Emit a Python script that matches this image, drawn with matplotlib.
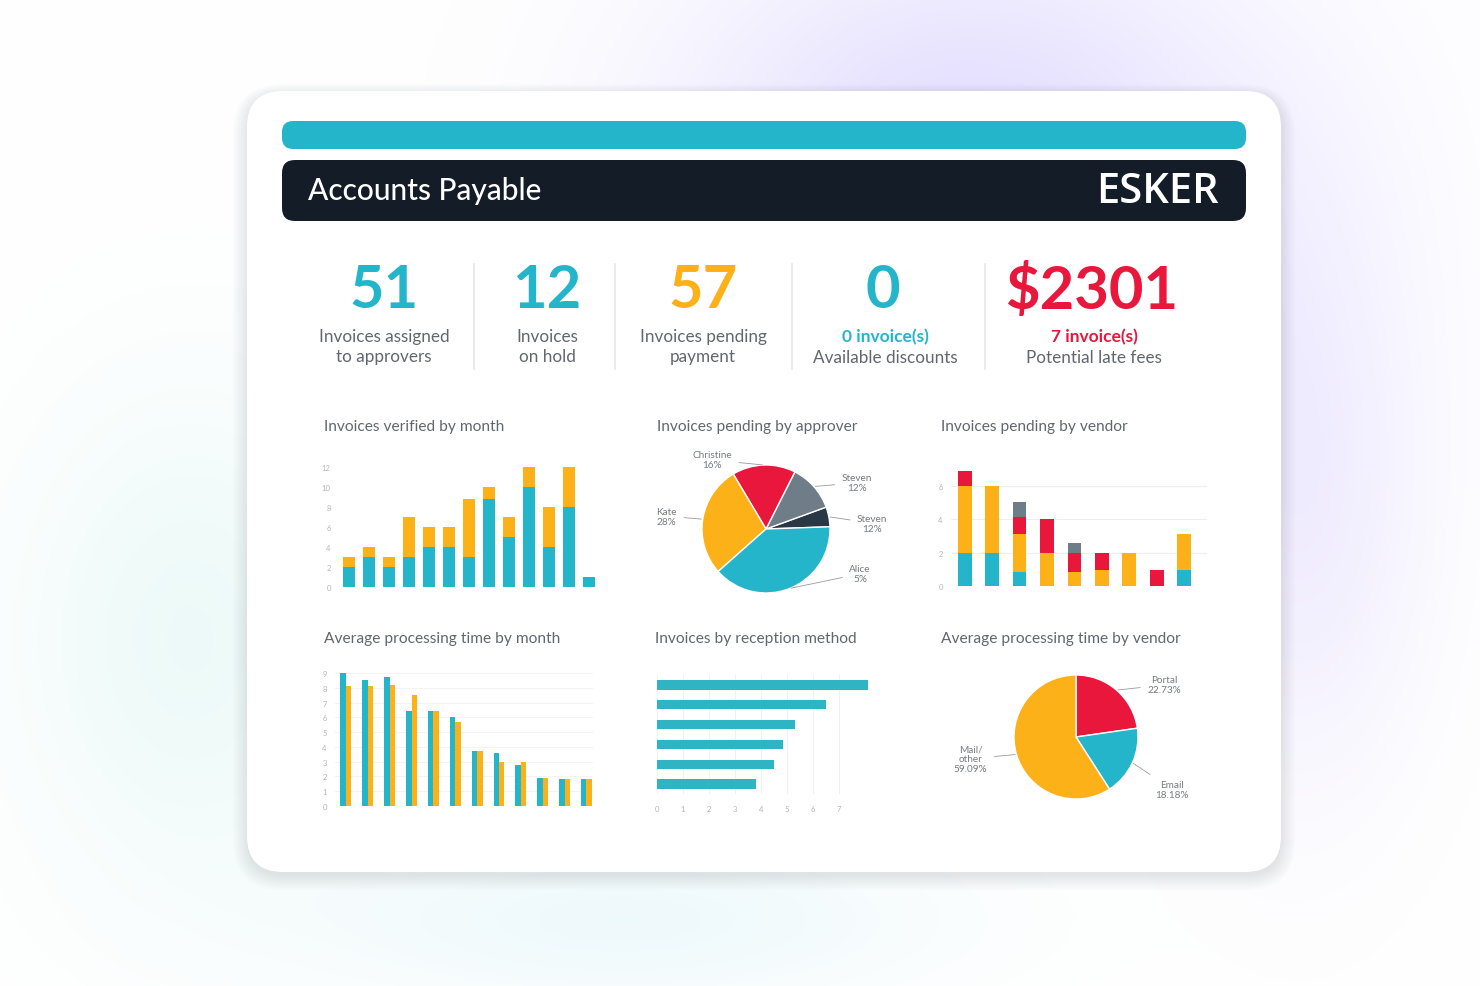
import numpy as np
import matplotlib
matplotlib.use('Agg')
import matplotlib.pyplot as plt
from matplotlib.patches import FancyBboxPatch

plt.rcParams['font.family'] = ['Lato', 'DejaVu Sans']

W, H = 1480, 987

# ---------------- data ----------------
kpi_values = ['51', '12', '57', '0', '$2301']
kpi_labels = ['Invoices assigned\nto approvers', 'Invoices\non hold', 'Invoices pending\npayment',
              'Available discounts', 'Potential late fees']
kpi_sublabels = ['', '', '', '0 invoice(s)', '7 invoice(s)']

verified_teal = [2, 3, 2, 3, 4, 4, 3, 8.8, 5, 10, 4, 8, 1]
verified_orange = [1, 1, 1, 4, 2, 2, 5.8, 1.2, 2, 2, 4, 4, 0]
verified_ticks = [0, 2, 4, 6, 8, 10, 12]

approver_names = ['Steven', 'Steven', 'Christine', 'Kate', 'Alice']
approver_pct = ['12%', '12%', '16%', '28%', '5%']
approver_values = [5, 12, 16, 28, 39]

vendor_teal = [2, 2, 0.85, 0, 0, 0, 0, 0, 0.95]
vendor_orange = [4, 4, 2.25, 2, 0.85, 0.95, 2, 0, 2.15]
vendor_red = [0.9, 0, 1.0, 2, 1.1, 1.05, 0, 0.95, 0]
vendor_gray = [0, 0, 0.95, 0, 0.6, 0, 0, 0, 0]
vendor_ticks = [0, 2, 4, 6]

proc_teal = [9.0, 8.5, 8.7, 6.4, 6.4, 6.0, 3.7, 3.6, 2.8, 1.9, 1.8, 1.8]
proc_orange = [8.1, 8.1, 8.2, 7.5, 6.4, 5.7, 3.7, 3.0, 3.0, 1.9, 1.8, 1.8]
proc_ticks = [0, 1, 2, 3, 4, 5, 6, 7, 8, 9]

reception_values = [8.1, 6.5, 5.3, 4.85, 4.5, 3.8]
reception_ticks = [0, 1, 2, 3, 4, 5, 6, 7]

vendor_time_names = ['Portal', 'Email', 'Mail/\nother']
vendor_time_values = [22.73, 18.18, 59.09]

# ---------------- colours ----------------
TEAL = '#25b5cb'
TEAL2 = '#2fb4c4'
ORANGE = '#fbb117'
RED = '#e8173b'
GRAY = '#6f7d88'
NAVY = '#2a3845'
DARK = '#141c28'
TXT = '#62676e'
TICK = '#b5b5b5'

fig = plt.figure(figsize=(14.8, 9.87), dpi=100)
bg = fig.add_axes([0, 0, 1, 1])
bg.set_xlim(0, W)
bg.set_ylim(H, 0)
bg.axis('off')

# soft background glows
yy, xx = np.mgrid[0:H, 0:W]
img = np.ones((H, W, 3))
def glow(cx, cy, sx, sy, col, strength):
    g = np.exp(-(((xx - cx) / sx) ** 2 + ((yy - cy) / sy) ** 2) / 2) * strength
    for c in range(3):
        img[..., c] -= g * (1 - col[c])
glow(970, 170, 210, 170, (0.80, 0.76, 1.0), 0.55)
glow(1300, 500, 90, 200, (0.84, 0.80, 1.0), 0.35)
glow(190, 640, 120, 170, (0.86, 0.96, 0.95), 0.5)
glow(620, 920, 220, 60, (0.86, 0.95, 0.97), 0.45)
bg.imshow(np.clip(img, 0, 1), extent=[0, W, H, 0], zorder=0, aspect='auto')

# card with shadow
for i in range(8):
    bg.add_patch(FancyBboxPatch((247 - i * 2, 92 - i * 1.5 + 4), 1034 + i * 4, 781 + i * 3.5,
                                boxstyle='round,pad=0,rounding_size=%d' % (36 + i * 2),
                                fc='#8a8fa0', ec='none', alpha=0.028, zorder=1))
bg.add_patch(FancyBboxPatch((247, 92), 1034, 781, boxstyle='round,pad=0,rounding_size=36',
                            fc='white', ec='none', zorder=2))

# header bars
bg.add_patch(FancyBboxPatch((282, 122), 964, 28, boxstyle='round,pad=0,rounding_size=11',
                            fc=TEAL, ec='none', zorder=3))
bg.add_patch(FancyBboxPatch((282, 161), 964, 61, boxstyle='round,pad=0,rounding_size=13',
                            fc=DARK, ec='none', zorder=3))
bg.text(308, 191, 'Accounts Payable', color='white', fontsize=21.5, fontweight='medium',
        va='center', ha='left', zorder=4)
bg.text(1219, 192, 'ESKER', color='white', fontsize=30, fontweight='semibold',
        va='center', ha='right', zorder=4, family=['Open Sans', 'DejaVu Sans'])

# KPI row
kpi_x = [384, 547, 703, 883, 1092]
kpi_colors = [TEAL, TEAL, ORANGE, TEAL, RED]
for i, (v, lab, sub) in enumerate(zip(kpi_values, kpi_labels, kpi_sublabels)):
    bg.text(kpi_x[i], 291, v, color=kpi_colors[i], fontsize=43, fontweight='bold',
            ha='center', va='center', zorder=4)
    if sub:
        bg.text(kpi_x[i] + 2, 337, sub, color=kpi_colors[i], fontsize=12.5, fontweight='bold',
                ha='center', va='center', zorder=4)
        bg.text(kpi_x[i] + 2, 358, lab, color=TXT, fontsize=12.3,
                ha='center', va='center', zorder=4)
    else:
        bg.text(kpi_x[i], 347, lab, color=TXT, fontsize=12.3, ha='center',
                va='center', linespacing=1.25, zorder=4)
for sx in [474, 615, 792, 985]:
    bg.plot([sx, sx], [265, 370], color='#e6e6e6', lw=1.2, zorder=4)

# chart titles
titles = [(324, 427, 'Invoices verified by month'), (657, 427, 'Invoices pending by approver'),
          (941, 427, 'Invoices pending by vendor'), (324, 639, 'Average processing time by month'),
          (655, 639, 'Invoices by reception method'), (941, 639, 'Average processing time by vendor')]
for tx, ty, t in titles:
    bg.text(tx, ty, t, color=TXT, fontsize=11.2, ha='left', va='center', zorder=4)


def px_axes(x0, y0, x1, y1):
    return fig.add_axes([x0 / W, 1 - y1 / H, (x1 - x0) / W, (y1 - y0) / H])


def style(ax):
    for s in ax.spines.values():
        s.set_visible(False)
    ax.tick_params(length=0, labelsize=5.5, labelcolor=TICK, pad=6)
    ax.set_facecolor('none')


LBL = dict(fontsize=7.2, color='#777b80', linespacing=1.15)

# Chart 1 - invoices verified by month
ax1 = px_axes(339, 468, 599, 588)
x1 = np.arange(len(verified_teal))
ax1.bar(x1, verified_teal, width=0.6, color=TEAL)
ax1.bar(x1, verified_orange, width=0.6, bottom=verified_teal, color=ORANGE)
ax1.set_xlim(-0.5, 12.5)
ax1.set_ylim(0, 12)
ax1.set_yticks(verified_ticks)
ax1.set_xticks([])
style(ax1)
for b in ax1.patches:
    b.set_clip_on(False)

# Chart 2 - pie by approver
ax2 = px_axes(766 - 64, 530 - 64, 766 + 64, 530 + 64)
wedges, _ = ax2.pie(approver_values, colors=[NAVY, GRAY, RED, ORANGE, TEAL], startangle=2,
                    counterclock=True, radius=1,
                    wedgeprops=dict(edgecolor='white', linewidth=1))
ax2.set_xlim(-1, 1)
ax2.set_ylim(-1, 1)
lab_pos = [(1.66, 0.09), (1.42, 0.72), (-0.84, 1.08), (-1.55, 0.2), (1.47, -0.70)]
for w, nm, pc, (lx, ly) in zip(wedges, approver_names, approver_pct, lab_pos):
    a = np.deg2rad((w.theta1 + w.theta2) / 2)
    ax2.annotate('%s\n%s' % (nm, pc), xy=(np.cos(a) * 1.0, np.sin(a) * 1.0), xytext=(lx, ly),
                 ha='center', va='center', **LBL,
                 arrowprops=dict(arrowstyle='-', color='#9a9a9a', lw=0.6, shrinkA=3, shrinkB=1),
                 annotation_clip=False)

# Chart 3 - pending by vendor
ax3 = px_axes(951, 470, 1207, 587)
x3 = np.arange(len(vendor_teal))
b0 = np.zeros(len(x3))
for vals, col in [(vendor_teal, TEAL), (vendor_orange, ORANGE), (vendor_red, RED), (vendor_gray, GRAY)]:
    ax3.bar(x3, vals, width=0.5, bottom=b0, color=col, zorder=3)
    b0 = b0 + np.array(vals)
ax3.set_xlim(-0.5, 8.83)
ax3.set_ylim(0, 7)
ax3.set_yticks(vendor_ticks)
ax3.set_xticks([])
ax3.yaxis.grid(True, color='#eeeeee', lw=0.8)
style(ax3)
ax3.tick_params(pad=6)

# Chart 4 - processing time by month
ax4 = px_axes(335, 674, 593, 807)
x4 = np.arange(len(proc_teal))
ax4.bar(x4 - 0.125, proc_teal, width=0.25, color=TEAL, zorder=3)
ax4.bar(x4 + 0.125, proc_orange, width=0.25, color=ORANGE, zorder=3)
ax4.set_xlim(-0.5, 11.3)
ax4.set_ylim(0, 9)
ax4.set_yticks(proc_ticks)
ax4.set_xticks([])
ax4.yaxis.grid(True, color='#f3f3f3', lw=0.7)
style(ax4)
for b in ax4.patches:
    b.set_clip_on(False)

# Chart 5 - reception method
ax5 = px_axes(657, 676, 873, 795)
y5 = np.arange(len(reception_values))
ax5.barh(y5, reception_values, height=0.47, color=TEAL2, zorder=3)
ax5.set_ylim(5.5, -0.5)
ax5.set_xlim(0, 8.3)
ax5.set_xticks(reception_ticks)
ax5.set_yticks([])
ax5.xaxis.grid(True, color='#f1f1f1', lw=0.7)
style(ax5)
ax5.tick_params(pad=8)

# Chart 6 - processing time by vendor (pie)
ax6 = px_axes(1076 - 62, 738 - 62, 1076 + 62, 738 + 62)
wedges6, _ = ax6.pie(vendor_time_values, colors=[RED, TEAL, ORANGE], startangle=90,
                     counterclock=False, radius=1,
                     wedgeprops=dict(edgecolor='white', linewidth=1))
ax6.set_xlim(-1, 1)
ax6.set_ylim(-1, 1)
lab_pos6 = [(1.42, 0.84), (1.55, -0.84), (-1.70, -0.35)]
for w, nm, v, (lx, ly) in zip(wedges6, vendor_time_names, vendor_time_values, lab_pos6):
    a = np.deg2rad((w.theta1 + w.theta2) / 2)
    ax6.annotate('%s\n%.2f%%' % (nm, v), xy=(np.cos(a), np.sin(a)), xytext=(lx, ly),
                 ha='center', va='center', **LBL,
                 arrowprops=dict(arrowstyle='-', color='#9a9a9a', lw=0.6, shrinkA=3, shrinkB=1),
                 annotation_clip=False)

fig.savefig('out.png', dpi=100)
